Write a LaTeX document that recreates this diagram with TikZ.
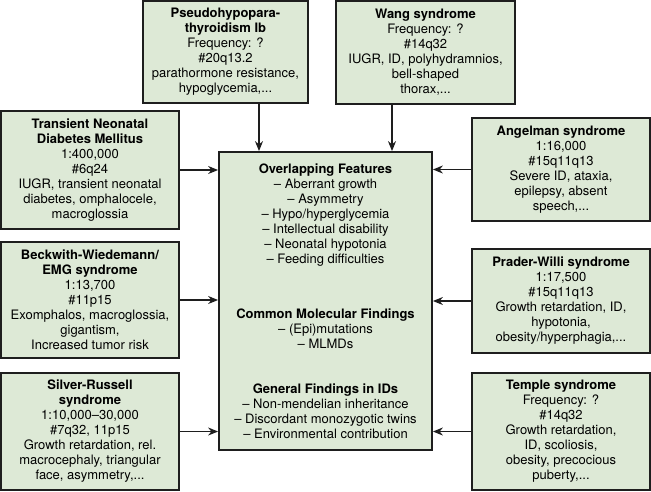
\documentclass[tikz,border=0pt]{standalone}
\usepackage{fontspec}
\setmainfont{TeX Gyre Heros}
\usetikzlibrary{arrows.meta,positioning}
\usepackage{xcolor}
\definecolor{boxgreen}{RGB}{221,233,214}
\definecolor{edgeblack}{RGB}{30,30,30}
\tikzset{
  synbox/.style={draw=edgeblack,line width=1.8pt,fill=boxgreen,align=center,inner sep=2pt,
    font=\fontsize{13}{15}\selectfont,minimum width=178pt},
  corebox/.style={synbox,minimum width=213pt,minimum height=298pt},
  feed/.style={-{Stealth[length=10pt,width=8pt]},line width=1.2pt,draw=edgeblack}
}

\begin{document}
\begin{tikzpicture}[x=1pt,y=-1pt]
  \useasboundingbox (0,0) rectangle (651,491);
  \node[corebox] (core) at (325.5,301) {\textbf{Overlapping Features}\\
    – Aberrant growth\\ – Asymmetry\\ – Hypo/hyperglycemia\\ – Intellectual disability\\
    – Neonatal hypotonia\\ – Feeding difficulties\\[40pt]
    \textbf{Common Molecular Findings}\\ – (Epi)mutations\\ – MLMDs\\[30pt]
    \textbf{General Findings in IDs}\\ – Non-mendelian inheritance\\
    – Discordant monozygotic twins\\ – Environmental contribution};
  \node[synbox,minimum width=165pt,minimum height=102pt] (phpib) at (225.5,52)
    {\textbf{Pseudohypopara-}\\\textbf{thyroidism Ib}\\Frequency: ?\\\#20q13.2\\parathormone resistance,\\hypoglycemia,...};
  \node[synbox,minimum width=179pt,minimum height=103pt] (wang) at (425.5,52.5)
    {\textbf{Wang syndrome}\\Frequency: ?\\\#14q32\\IUGR, ID, polyhydramnios,\\bell-shaped\\thorax,...};
  \node[synbox,minimum height=118pt] (tndm) at (90,170)
    {\textbf{Transient Neonatal}\\\textbf{Diabetes Mellitus}\\1:400,000\\\#6q24\\IUGR, transient neonatal\\diabetes, omphalocele,\\macroglossia};
  \node[synbox,minimum height=116pt] (bws) at (90,300)
    {\textbf{Beckwith-Wiedemann/}\\\textbf{EMG syndrome}\\1:13,700\\\#11p15\\Exomphalos, macroglossia,\\gigantism,\\Increased tumor risk};
  \node[synbox,minimum height=117pt] (srs) at (90,431.5)
    {\textbf{Silver-Russell}\\\textbf{syndrome}\\1:10,000–30,000\\\#7q32, 11p15\\Growth retardation, rel.\\macrocephaly, triangular\\face, asymmetry,...};
  \node[synbox,minimum height=103pt] (as) at (561,169.5)
    {\textbf{Angelman syndrome}\\1:16,000\\\#15q11q13\\Severe ID, ataxia,\\epilepsy, absent\\speech,...};
  \node[synbox,minimum height=104pt] (pws) at (561,301)
    {\textbf{Prader-Willi syndrome}\\1:17,500\\\#15q11q13\\Growth retardation, ID,\\hypotonia,\\obesity/hyperphagia,...};
  \node[synbox,minimum height=117pt] (ts) at (561,431.5)
    {\textbf{Temple syndrome}\\Frequency: ?\\\#14q32\\Growth retardation,\\ID, scoliosis,\\obesity, precocious\\puberty,...};
  % arrows into the shared box
  \draw[feed] ([xshift=33.5pt]phpib.south) -- ([xshift=33.5pt]phpib.south |- core.north);
  \draw[feed] ([xshift=-33.5pt]wang.south) -- ([xshift=-33.5pt]wang.south |- core.north);
  \draw[feed] (tndm.east) -- (tndm.east -| core.west);
  \draw[feed] (bws.east) -- (bws.east -| core.west);
  \draw[feed] (srs.east) -- (srs.east -| core.west);
  \draw[feed] (as.west) -- (as.west -| core.east);
  \draw[feed] (pws.west) -- (pws.west -| core.east);
  \draw[feed] (ts.west) -- (ts.west -| core.east);
\end{tikzpicture}
\end{document}
